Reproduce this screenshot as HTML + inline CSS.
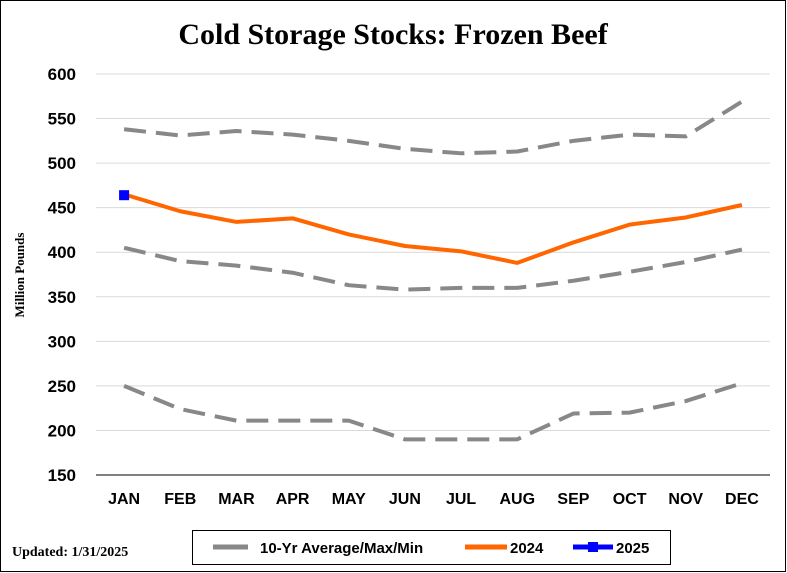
<!DOCTYPE html>
<html><head><meta charset="utf-8"><style>
body{margin:0;background:#fff}
svg{display:block}
text{font-family:"Liberation Sans",sans-serif}
</style></head><body>
<svg id="c" width="787" height="573">
<rect x="0.5" y="0.5" width="785" height="571" fill="#fff" stroke="#000"/>
<text x="393" y="44" text-anchor="middle" font-family="Liberation Serif" font-weight="bold" font-size="30" style="font-family:'Liberation Serif',serif">Cold Storage Stocks: Frozen Beef</text>
<text transform="translate(24,275) rotate(-90)" text-anchor="middle" font-weight="bold" font-size="13" style="font-family:'Liberation Serif',serif">Million Pounds</text>
<g id="grid"></g><g id="series"></g>
<text x="12" y="556" font-weight="bold" font-size="14" style="font-family:'Liberation Serif',serif">Updated: 1/31/2025</text>
<g>
<rect x="192.5" y="530.5" width="478" height="34" fill="#fff" stroke="#000"/>
<line x1="213" y1="547" x2="248" y2="547" stroke="#888" stroke-width="5"/>
<text x="260" y="553" font-weight="bold" font-size="15">10-Yr Average/Max/Min</text>
<line x1="465" y1="547" x2="507" y2="547" stroke="#ff6600" stroke-width="5"/>
<text x="510" y="553" font-weight="bold" font-size="15">2024</text>
<line x1="573" y1="547" x2="613" y2="547" stroke="#0000ff" stroke-width="5"/>
<rect x="588" y="542" width="10" height="10" fill="#0000ff"/>
<text x="616" y="553" font-weight="bold" font-size="15">2025</text>
</g>
</svg>
<script>
const months=["JAN","FEB","MAR","APR","MAY","JUN","JUL","AUG","SEP","OCT","NOV","DEC"];
const yTicks=[150,200,250,300,350,400,450,500,550,600];
const maxVals=[538,531,536,532,525,516,511,513,525,532,530,569];
const avgVals=[405,390,385,377,363,358,360,360,368,378,389,403];
const minVals=[250,224,211,211,211,190,190,190,219,220,233,253];
const vals2024=[465,446,434,438,420,407,401,388,411,431,439,453];
const vals2025=[464];
const NS="http://www.w3.org/2000/svg";
const L=96,R=770,T=74,B=475;
const x=i=>L+(R-L)/12*(i+0.5);
const y=v=>B-(v-150)/450*(B-T);
const grid=document.getElementById('grid'),ser=document.getElementById('series');
function mk(tag,a,p){const e=document.createElementNS(NS,tag);for(const k in a)e.setAttribute(k,a[k]);p.appendChild(e);return e;}
yTicks.forEach(v=>{
 const l=mk('line',{x1:L,x2:R,y1:y(v),y2:y(v),stroke:v===150?'#000':'#d9d9d9','stroke-width':1},grid);
 
 
 const t=mk('text',{x:L-20,y:y(v)+6,'text-anchor':'end','font-weight':'bold','font-size':17},grid);t.textContent=v;
 
 
});
months.forEach((m,i)=>{
 const t=mk('text',{x:x(i),y:504,'text-anchor':'middle','font-weight':'bold','font-size':16},grid);t.textContent=m;
 
 
});
function line(vals,color,dash,name){
 const p=mk('polyline',{points:vals.map((v,i)=>x(i)+','+y(v)).join(' '),fill:'none',stroke:color,'stroke-width':4,'stroke-dasharray':dash||'','stroke-linejoin':'round'},ser);
 
 
}
line(maxVals,'#888','22 10','series-max');
line(avgVals,'#888','22 10','series-average');
line(minVals,'#888','22 10','series-min');
line(vals2024,'#ff6600','','series-2024');
vals2025.forEach((v,i)=>{
 const r=mk('rect',{x:x(i)-5,y:y(v)-5,width:10,height:10,fill:'#0000ff'},ser);
 
 
});
</script>
</body></html>
